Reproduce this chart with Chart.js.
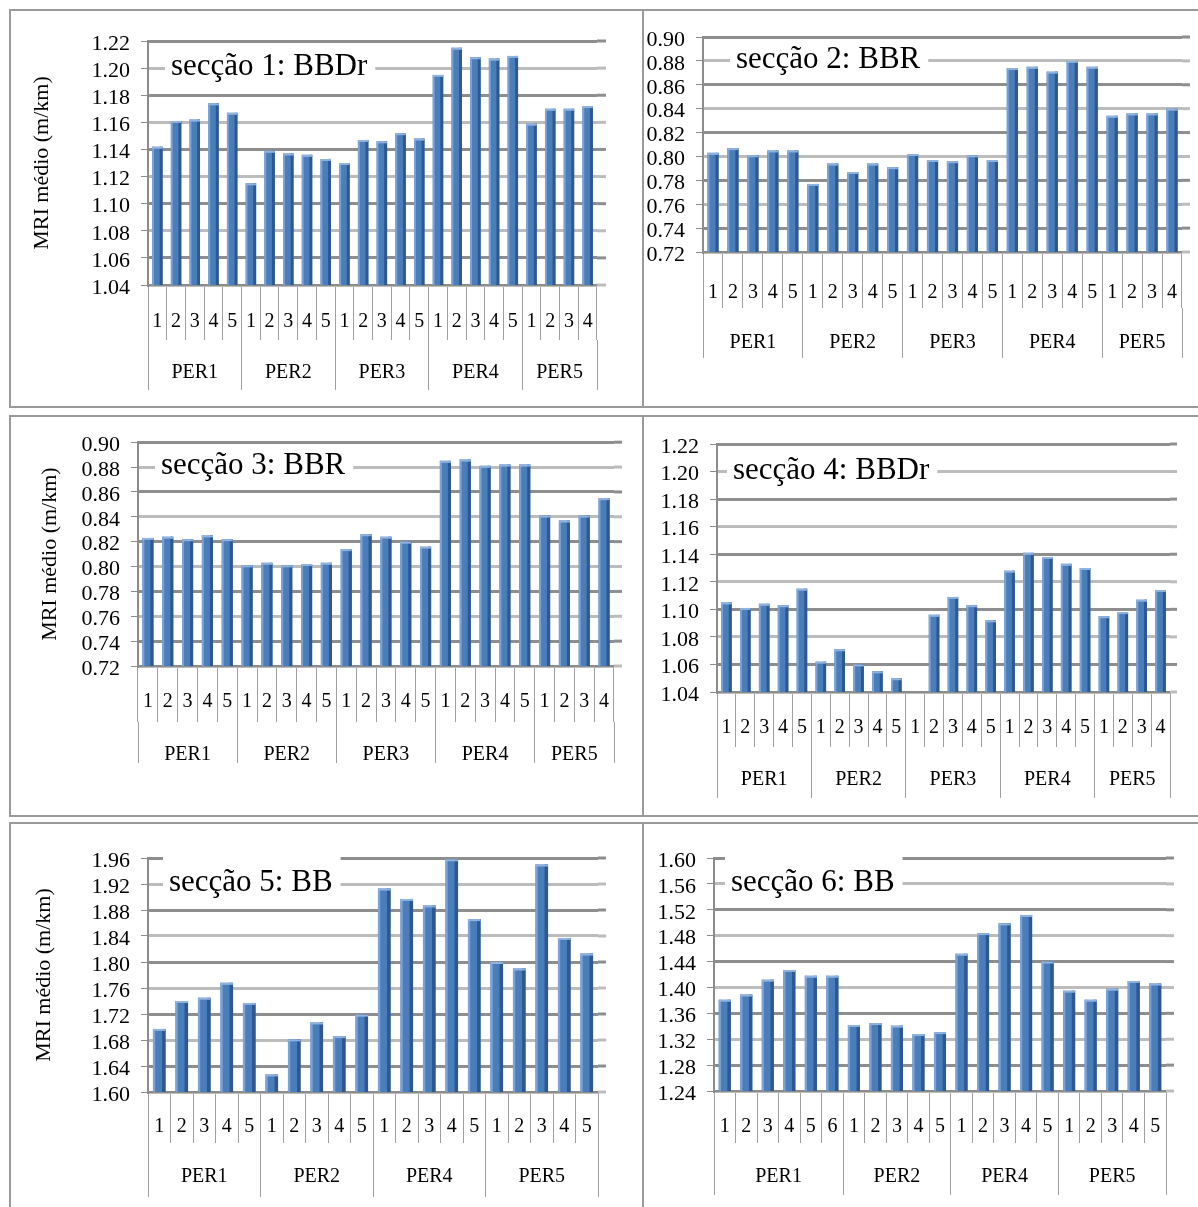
<!DOCTYPE html>
<html>
<head>
<meta charset="utf-8">
<script src="https://cdn.jsdelivr.net/npm/chart.js@4.4.1/dist/chart.umd.min.js"></script>
<style>
html, body { margin: 0; padding: 0; background: #fff; }
body { width: 1198px; height: 1207px; position: relative; overflow: hidden; }
.row { position: absolute; left: 9px; width: 1200px; border: 2px solid #9a9a9a; box-sizing: border-box; }
.vline { position: absolute; left: 642px; width: 2px; background: #9a9a9a; }
canvas { position: absolute; }
</style>
</head>
<body>
<div class="row" style="top:9px;height:399px"></div>
<div class="row" style="top:415px;height:402px"></div>
<div class="row" style="top:822px;height:400px"></div>
<div class="vline" style="top:9px;height:399px"></div>
<div class="vline" style="top:415px;height:402px"></div>
<div class="vline" style="top:822px;height:390px"></div>
<canvas id="c1"></canvas>
<canvas id="c2"></canvas>
<canvas id="c3"></canvas>
<canvas id="c4"></canvas>
<canvas id="c5"></canvas>
<canvas id="c6"></canvas>
<script>
var FONT = '"Liberation Serif", "Times New Roman", serif';
var Y_TITLE = 'MRI médio (m/km)';

// secção 1: BBDr
var s1Groups = ['PER1', 'PER2', 'PER3', 'PER4', 'PER5'];
var s1Sizes = [5, 5, 5, 5, 4];
var s1Values = [1.142, 1.161, 1.162, 1.174, 1.167,
                1.115, 1.139, 1.137, 1.136, 1.133,
                1.130, 1.147, 1.146, 1.152, 1.148,
                1.195, 1.215, 1.208, 1.207, 1.209,
                1.159, 1.170, 1.170, 1.172];
var s1Axis = [1.04, 1.22, 0.02];

// secção 2: BBR
var s2Groups = ['PER1', 'PER2', 'PER3', 'PER4', 'PER5'];
var s2Sizes = [5, 5, 5, 5, 4];
var s2Values = [0.803, 0.807, 0.801, 0.805, 0.805,
                0.777, 0.794, 0.787, 0.794, 0.791,
                0.802, 0.797, 0.796, 0.801, 0.797,
                0.874, 0.875, 0.871, 0.880, 0.875,
                0.834, 0.836, 0.836, 0.840];
var s2Axis = [0.72, 0.90, 0.02];

// secção 3: BBR
var s3Groups = ['PER1', 'PER2', 'PER3', 'PER4', 'PER5'];
var s3Sizes = [5, 5, 5, 5, 4];
var s3Values = [0.823, 0.824, 0.822, 0.825, 0.822,
                0.801, 0.803, 0.801, 0.802, 0.803,
                0.814, 0.826, 0.824, 0.820, 0.816,
                0.885, 0.886, 0.881, 0.882, 0.882,
                0.841, 0.837, 0.841, 0.855];
var s3Axis = [0.72, 0.90, 0.02];

// secção 4: BBDr (PER3-1 has no value)
var s4Groups = ['PER1', 'PER2', 'PER3', 'PER4', 'PER5'];
var s4Sizes = [5, 5, 5, 5, 4];
var s4Values = [1.105, 1.101, 1.104, 1.103, 1.115,
                1.062, 1.071, 1.060, 1.055, 1.050,
                null, 1.096, 1.109, 1.103, 1.092,
                1.128, 1.141, 1.138, 1.133, 1.130,
                1.095, 1.098, 1.107, 1.114];
var s4Axis = [1.04, 1.22, 0.02];

// secção 5: BB
var s5Groups = ['PER1', 'PER2', 'PER4', 'PER5'];
var s5Sizes = [5, 5, 5, 5];
var s5Values = [1.697, 1.740, 1.745, 1.768, 1.737,
                1.627, 1.681, 1.707, 1.686, 1.719,
                1.913, 1.897, 1.887, 1.958, 1.866,
                1.800, 1.790, 1.950, 1.837, 1.813];
var s5Axis = [1.60, 1.96, 0.04];

// secção 6: BB
var s6Groups = ['PER1', 'PER2', 'PER4', 'PER5'];
var s6Sizes = [6, 5, 5, 5];
var s6Values = [1.381, 1.389, 1.412, 1.427, 1.418, 1.418,
                1.342, 1.345, 1.341, 1.328, 1.331,
                1.452, 1.484, 1.499, 1.512, 1.440,
                1.395, 1.381, 1.398, 1.410, 1.406];
var s6Axis = [1.24, 1.60, 0.04];

function gridColor(i) { return i % 2 ? '#8E8E8E' : '#BCBCBC'; }

// white box with the section name, over the gridlines; also the short
// back-wall overhang of the gridlines on the right
var sectionTitle = {
    id: 'sectionTitle',
    beforeDatasetsDraw: function (chart, args, opts) {
        var ctx = chart.ctx, area = chart.chartArea, y = chart.scales.y;
        ctx.save();
        y.ticks.forEach(function (t, i) {
            var py = y.getPixelForValue(t.value);
            ctx.strokeStyle = gridColor(i);
            ctx.lineWidth = 3;
            ctx.beginPath();
            ctx.moveTo(area.right, py);
            ctx.lineTo(area.right + opts.overhang, py);
            ctx.stroke();
        });
        var yc = y.getPixelForValue(opts.level);
        ctx.font = '31px ' + FONT;
        var w = ctx.measureText(opts.text).width;
        var x = area.left + opts.dx;
        var top = opts.coverTop ? area.top - 3 : yc - 16;
        ctx.fillStyle = '#fff';
        ctx.fillRect(x - 6, top, w + 14, yc + 16 - top);
        ctx.fillStyle = '#000';
        ctx.textBaseline = 'middle';
        ctx.fillText(opts.text, x, yc - 1);
        ctx.restore();
    }
};

// light left edge, dark right side, top cap
var barShade = {
    id: 'barShade',
    afterDatasetsDraw: function (chart) {
        var ctx = chart.ctx, area = chart.chartArea;
        var values = chart.data.datasets[0].data;
        ctx.save();
        chart.getDatasetMeta(0).data.forEach(function (bar, i) {
            if (values[i] == null) return;
            var p = bar.getProps(['x', 'y', 'width'], true);
            var left = p.x - p.width / 2, h = area.bottom - p.y;
            ctx.fillStyle = '#7CA3D7';
            ctx.fillRect(left, p.y, p.width * 0.18, h);
            ctx.fillStyle = '#2F5890';
            ctx.fillRect(p.x + p.width * 0.22, p.y, p.width * 0.28, h);
            ctx.fillStyle = '#8FB2E0';
            ctx.fillRect(left, p.y, p.width, 2);
        });
        ctx.restore();
    }
};

function makeChart(id, groups, sizes, values, axis, title, box) {
    var canvas = document.getElementById(id);
    var c = box.canvas;
    canvas.style.left = c[0] + 'px';
    canvas.style.top = c[1] + 'px';
    canvas.width = c[2];
    canvas.height = c[3];
    var L = box.plot[0], T = box.plot[1], R = box.plot[2], B = box.plot[3];
    var h1 = box.rows[0], h2 = box.rows[1];

    var labels = [], bounds = [-0.5], centers = [], start = 0;
    sizes.forEach(function (n) {
        for (var k = 1; k <= n; k++) labels.push(String(k));
        centers.push(start + (n - 1) / 2);
        start += n;
        bounds.push(start - 0.5);
    });
    var groupTicks = bounds.concat(centers).sort(function (a, b) { return a - b; });

    var yTicks = [];
    var steps = Math.round((axis[1] - axis[0]) / axis[2]);
    for (var i = 0; i <= steps; i++) yTicks.push(+(axis[0] + i * axis[2]).toFixed(2));

    return new Chart(canvas, {
        type: 'bar',
        data: {
            labels: labels,
            datasets: [{
                data: values,
                backgroundColor: '#4A7EBB',
                barPercentage: 0.56,
                categoryPercentage: 1
            }]
        },
        options: {
            responsive: false,
            animation: false,
            devicePixelRatio: 1,
            layout: {
                autoPadding: false,
                padding: { left: 0, top: T - c[1], right: c[0] + c[2] - R, bottom: c[1] + c[3] - (B + h1 + h2) }
            },
            plugins: {
                legend: { display: false },
                tooltip: { enabled: false },
                sectionTitle: {
                    text: title, dx: box.dx, coverTop: box.coverTop,
                    level: +(axis[1] - axis[2]).toFixed(2), overhang: box.overhang
                }
            },
            scales: {
                x: {
                    type: 'category',
                    weight: 0,
                    offset: true,
                    grid: { offset: true, drawOnChartArea: false, tickLength: h1, color: '#A0A0A0' },
                    border: { color: '#8C8C8C', width: 2 },
                    ticks: { autoSkip: false, maxRotation: 0, padding: box.text[0] - h1 - 12, color: '#000', font: { family: FONT, size: 20 } },
                    afterFit: function (s) { s.height = h1; }
                },
                x2: {
                    type: 'linear',
                    position: 'bottom',
                    weight: 1,
                    offset: false,
                    min: -0.5,
                    max: labels.length - 0.5,
                    afterBuildTicks: function (s) {
                        s.ticks = groupTicks.map(function (v) { return { value: v }; });
                    },
                    afterFit: function (s) { s.height = h2; s.paddingLeft = 0; s.paddingRight = 0; },
                    grid: {
                        offset: false,
                        drawOnChartArea: false,
                        tickLength: h2,
                        color: function (ctx) {
                            return ctx.tick && bounds.indexOf(ctx.tick.value) >= 0 ? '#A0A0A0' : 'rgba(0,0,0,0)';
                        }
                    },
                    border: { display: false },
                    ticks: {
                        autoSkip: false,
                        maxRotation: 0,
                        align: 'center',
                        padding: box.text[1] - h2 - 12,
                        color: '#000',
                        font: { family: FONT, size: 20 },
                        callback: function (v) {
                            var k = centers.indexOf(v);
                            return k >= 0 ? groups[k] : '';
                        }
                    }
                },
                y: {
                    min: axis[0],
                    max: axis[1],
                    afterBuildTicks: function (s) {
                        s.ticks = yTicks.map(function (v) { return { value: v }; });
                    },
                    afterFit: function (s) { s.width = L - c[0]; },
                    grid: {
                        lineWidth: 3,
                        color: function (ctx) { return gridColor(ctx.index); },
                        tickLength: 7,
                        tickWidth: 1,
                        tickColor: '#8C8C8C'
                    },
                    border: { color: '#8C8C8C', width: 2 },
                    ticks: {
                        autoSkip: false,
                        padding: 11,
                        labelOffset: 3,
                        color: '#000',
                        font: { family: FONT, size: 22 },
                        callback: function (v) { return v.toFixed(2); }
                    },
                    title: {
                        display: box.yTitle != null,
                        text: Y_TITLE,
                        color: '#000',
                        font: { family: FONT, size: 22 },
                        padding: { top: box.yTitle || 0, bottom: 0 }
                    }
                }
            }
        },
        plugins: [sectionTitle, barShade]
    });
}

makeChart('c1', s1Groups, s1Sizes, s1Values, s1Axis, 'secção 1: BBDr',
    { canvas: [11, 12, 630, 394], plot: [148, 41, 597, 285], rows: [55, 50], text: [37, 33], dx: 23, coverTop: false, yTitle: 18, overhang: 9 });
makeChart('c2', s2Groups, s2Sizes, s2Values, s2Axis, 'secção 2: BBR',
    { canvas: [645, 12, 553, 394], plot: [703, 37, 1182, 252], rows: [56, 50], text: [41, 35], dx: 33, coverTop: false, overhang: 8 });
makeChart('c3', s3Groups, s3Sizes, s3Values, s3Axis, 'secção 3: BBR',
    { canvas: [11, 418, 630, 397], plot: [138, 438, 614, 666], rows: [56, 41], text: [36, 33], dx: 23, coverTop: false, yTitle: 26, overhang: 8 });
makeChart('c4', s4Groups, s4Sizes, s4Values, s4Axis, 'secção 4: BBDr',
    { canvas: [645, 418, 553, 397], plot: [717, 444, 1170, 692], rows: [55, 51], text: [36, 33], dx: 16, coverTop: false, overhang: 7 });
makeChart('c5', s5Groups, s5Sizes, s5Values, s5Axis, 'secção 5: BB',
    { canvas: [11, 825, 630, 382], plot: [148, 858, 598, 1092], rows: [51, 54], text: [35, 34], dx: 21, coverTop: true, yTitle: 20, overhang: 8 });
makeChart('c6', s6Groups, s6Sizes, s6Values, s6Axis, 'secção 6: BB',
    { canvas: [645, 825, 553, 382], plot: [714, 858, 1166, 1091], rows: [52, 52], text: [36, 34], dx: 17, coverTop: true, overhang: 8 });
</script>
</body>
</html>
